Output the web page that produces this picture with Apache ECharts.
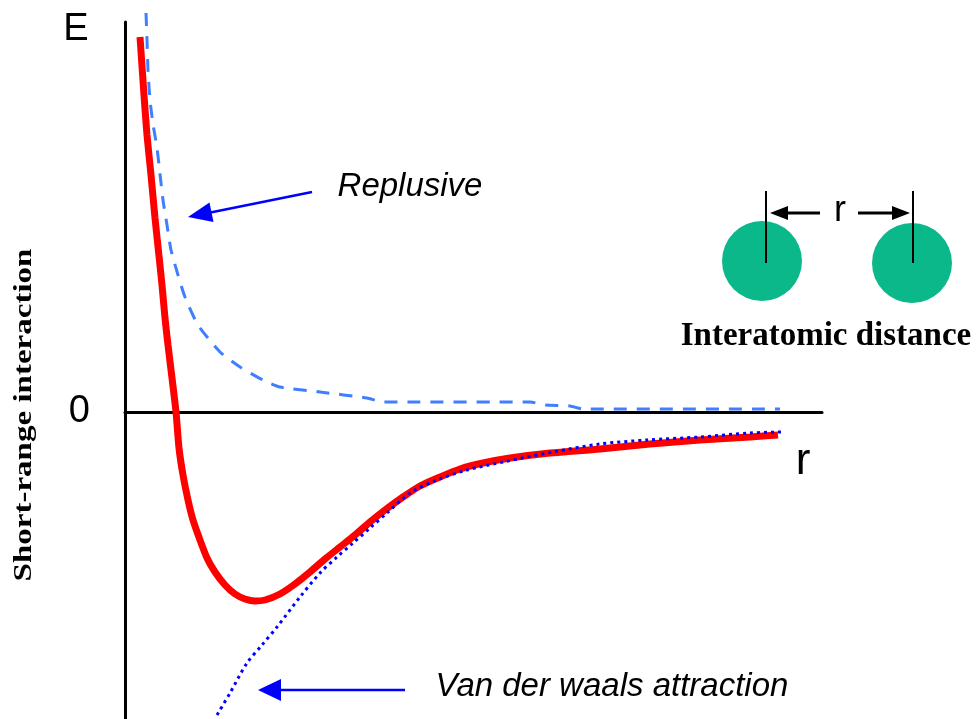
<!DOCTYPE html>
<html>
<head>
<meta charset="utf-8">
<script src="https://cdn.jsdelivr.net/npm/echarts@6/dist/echarts.min.js"></script>
<style>html,body{margin:0;padding:0;background:#fff}#c{width:977px;height:719px}</style>
</head>
<body>
<div id="c"></div>
<script>
// Total potential (red): [r, E]
const totalR = [0.15,0.19,0.22,0.26,0.30,0.34,0.37,0.40,0.43,0.47,0.51,0.54,0.58,0.63,0.68,0.75,0.82,0.90,1.00,1.10,1.20,1.30,1.40,1.55,1.70,1.85,2.00,2.15,2.30,2.45,2.60,2.78,2.95,3.15,3.35,3.58,3.85,4.25,4.75,5.25,5.75,6.25,6.53];
const totalE = [3.75,3.17,2.77,2.37,1.94,1.56,1.27,0.94,0.67,0.34,0,-0.36,-0.63,-0.88,-1.08,-1.28,-1.46,-1.60,-1.73,-1.82,-1.87,-1.89,-1.88,-1.82,-1.72,-1.60,-1.47,-1.35,-1.23,-1.10,-0.98,-0.85,-0.74,-0.65,-0.57,-0.51,-0.46,-0.41,-0.37,-0.32,-0.28,-0.25,-0.23];
// Repulsive term (dashed)
const repR = [0.21,0.22,0.23,0.25,0.28,0.32,0.35,0.38,0.42,0.46,0.53,0.60,0.73,0.95,1.15,1.38,1.55,1.95,2.42,2.58,4.05,4.20,4.45,4.58,6.55];
const repE = [3.99,3.72,3.42,3.12,2.88,2.64,2.38,2.12,1.87,1.62,1.37,1.15,0.87,0.60,0.45,0.32,0.25,0.20,0.14,0.10,0.10,0.07,0.06,0.03,0.03];
// Van der Waals attraction (dotted)
const attR = [0.92,1.05,1.22,1.37,1.52,1.75,1.95,2.12,2.28,2.45,2.62,2.85,3.12,3.42,3.78,4.28,4.75,5.22,5.75,6.25,6.57];
const attE = [-3.03,-2.81,-2.51,-2.33,-2.15,-1.85,-1.61,-1.45,-1.31,-1.16,-1.01,-0.81,-0.68,-0.58,-0.50,-0.40,-0.32,-0.28,-0.25,-0.21,-0.20];
const yTickValues = [0];
const yTitle = 'Short-range interaction';

const zip = (a, b) => a.map((v, i) => [v, b[i]]);
const chart = echarts.init(document.getElementById('c'), null, {renderer: 'canvas'});
const sans = 'Liberation Sans, Arial, sans-serif';
const serif = 'Liberation Serif, Times New Roman, serif';
const blue = '#0000ff';

function txt(text, x, y, font, extra) {
  return Object.assign({type: 'text', z: 10, x: x, y: y,
    style: {text: text, x: 0, y: 0, font: font, fill: '#000', textAlign: 'center', textVerticalAlign: 'middle'}}, extra || {});
}

chart.setOption({
  backgroundColor: '#fff',
  animation: false,
  grid: {left: 125, right: 155, top: 22, bottom: 0, containLabel: false},
  xAxis: {
    type: 'value', min: 0, max: 6.97,
    axisLine: {onZero: true, lineStyle: {color: '#000', width: 3}},
    axisTick: {show: false}, axisLabel: {show: false}, splitLine: {show: false}
  },
  yAxis: {
    type: 'value', min: -3.07, max: 3.90,
    axisLine: {show: true, onZero: false, lineStyle: {color: '#000', width: 3}},
    axisTick: {show: false}, splitLine: {show: false},
    axisLabel: {customValues: yTickValues, margin: 35, fontSize: 38, color: '#000', fontFamily: sans}
  },
  series: [
    {type: 'line', data: zip(totalR, totalE), showSymbol: false, smooth: 0.25, z: 2,
     lineStyle: {color: '#ff0000', width: 7}},
    {type: 'line', data: zip(repR, repE), showSymbol: false, smooth: 0.2, clip: false, z: 3,
     lineStyle: {color: '#3f7fff', width: 3, type: [13, 10]}},
    {type: 'line', data: zip(attR, attE), showSymbol: false, smooth: 0.3, clip: false, z: 4,
     lineStyle: {color: blue, width: 3, type: [3, 4]}}
  ],
  graphic: [
    txt('E', 76, 30, '38px ' + sans),
    txt('r', 803, 462, '44px ' + sans),
    txt(yTitle, 24, 415, 'bold 26px ' + serif, {rotation: Math.PI / 2, scaleX: 1.27}),
    txt('Replusive', 410, 187, 'italic 33px ' + sans),
    txt('Van der waals attraction', 612, 687, 'italic 33px ' + sans),
    txt('Interatomic distance', 826, 336, 'bold 33px ' + serif),
    txt('r', 840, 211, '36px ' + sans),
    // annotation arrows
    {type: 'line', z: 10, shape: {x1: 312, y1: 192, x2: 208, y2: 213}, style: {stroke: blue, lineWidth: 2.5}},
    {type: 'polygon', z: 10, shape: {points: [[188,217],[213.5,222],[209.5,202.4]]}, style: {fill: blue}},
    {type: 'line', z: 10, shape: {x1: 405, y1: 690, x2: 275, y2: 690}, style: {stroke: blue, lineWidth: 2.5}},
    {type: 'polygon', z: 10, shape: {points: [[258,690],[281,679],[281,701]]}, style: {fill: blue}},
    // atoms
    {type: 'circle', z: 5, shape: {cx: 762, cy: 261, r: 40}, style: {fill: '#0bb88a'}},
    {type: 'circle', z: 5, shape: {cx: 912, cy: 263, r: 40}, style: {fill: '#0bb88a'}},
    {type: 'line', z: 10, shape: {x1: 766, y1: 191, x2: 766, y2: 263}, style: {stroke: '#000', lineWidth: 2}},
    {type: 'line', z: 10, shape: {x1: 913, y1: 191, x2: 913, y2: 263}, style: {stroke: '#000', lineWidth: 2}},
    {type: 'line', z: 10, shape: {x1: 820, y1: 213, x2: 785, y2: 213}, style: {stroke: '#000', lineWidth: 3}},
    {type: 'polygon', z: 10, shape: {points: [[770,213],[788,206],[788,220]]}, style: {fill: '#000'}},
    {type: 'line', z: 10, shape: {x1: 858, y1: 213, x2: 895, y2: 213}, style: {stroke: '#000', lineWidth: 3}},
    {type: 'polygon', z: 10, shape: {points: [[910,213],[892,206],[892,220]]}, style: {fill: '#000'}}
  ]
});
</script>
</body>
</html>
